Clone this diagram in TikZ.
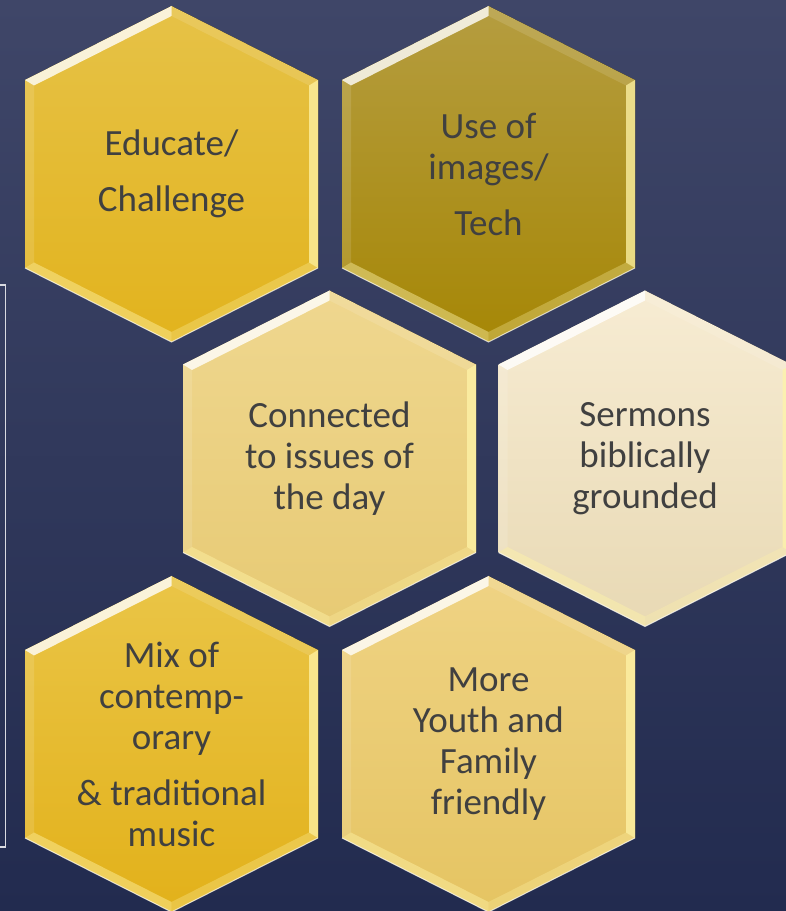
\documentclass[tikz,border=0pt]{standalone}
\usepackage{fontspec}
\setmainfont{Carlito}
\definecolor{bgtop}{HTML}{3F4668}
\definecolor{bgbot}{HTML}{222B4F}
\definecolor{txt}{HTML}{404040}
\definecolor{gAt}{HTML}{E6C247}\definecolor{gAb}{HTML}{E2B31D}
\definecolor{gBt}{HTML}{B59D40}\definecolor{gBb}{HTML}{A68706}
\definecolor{gCt}{HTML}{EFD78F}\definecolor{gCb}{HTML}{E7CA74}
\definecolor{gDt}{HTML}{F7ECD3}\definecolor{gDb}{HTML}{E8D9B4}
\definecolor{gEt}{HTML}{EAC547}\definecolor{gEb}{HTML}{E2B11A}
\definecolor{gFt}{HTML}{EFD384}\definecolor{gFb}{HTML}{E5C462}
\definecolor{bevR}{HTML}{FFF4A8}
\tikzset{
  hextext/.style={align=center, text=txt, font=\fontsize{37}{41}\selectfont, inner sep=0pt},
  bracketline/.style={draw=white!80!bgtop, line width=1.3pt},
}
\newcommand{\hexcell}[6]{%
\begin{scope}[shift={(#2,#3)}]
  \fill[top color=#4, bottom color=#5] (0,168) -- (146.5,94) -- (146.5,-94) -- (0,-168) -- (-146.5,-94) -- (-146.5,94) -- cycle;
  % top-left bevel (highlight)
  \fill[white, opacity=.8] (-146.5,94) -- (0,168) -- (0,158) -- (-137.5,88.5) -- cycle;
  % top-right bevel
  \fill[white, opacity=.12] (0,168) -- (146.5,94) -- (137.5,88.5) -- (0,158) -- cycle;
  % right bevel
  \fill[bevR, opacity=.75] (146.5,94) -- (146.5,-94) -- (137.5,-88.5) -- (137.5,88.5) -- cycle;
  % left bevel
  \fill[white, opacity=.12] (-146.5,94) -- (-146.5,-94) -- (-137.5,-88.5) -- (-137.5,88.5) -- cycle;
  % bottom bevels
  \fill[bevR, opacity=.45] (-146.5,-94) -- (0,-168) -- (0,-158) -- (-137.5,-88.5) -- cycle;
  \fill[bevR, opacity=.3] (146.5,-94) -- (0,-168) -- (0,-158) -- (137.5,-88.5) -- cycle;
  \draw[white, opacity=.7, line width=1pt] (-146.5,-94) -- (0,-168) -- (146.5,-94);
  \node[hextext] (#1) at (0,0) {#6};
\end{scope}}
\begin{document}
\begin{tikzpicture}[x=1pt,y=1pt]
\useasboundingbox (0,0) rectangle (786,911);
\fill[top color=bgtop, bottom color=bgbot] (0,0) rectangle (786,911);
\coordinate (brtop) at (0,626);
\coordinate (brbot) at (0,64);
\draw[bracketline] (brtop) -- ++(5.5,0) |- (brbot);
\hexcell{educate}{171.5}{737}{gAt}{gAb}{Educate/\\[15pt]Challenge}
\hexcell{images}{488.5}{737}{gBt}{gBb}{Use of\\images/\\[15pt]Tech}
\hexcell{connected}{329.5}{452.5}{gCt}{gCb}{Connected\\to issues of\\the day}
\hexcell{sermons}{645}{452.5}{gDt}{gDb}{Sermons\\biblically\\grounded}
\hexcell{mix}{171.5}{167}{gEt}{gEb}{Mix of\\contemp-\\orary\\[15pt]\& traditional\\music}
\hexcell{youth}{488.5}{167}{gFt}{gFb}{More\\Youth and\\Family\\friendly}
\end{tikzpicture}
\end{document}
